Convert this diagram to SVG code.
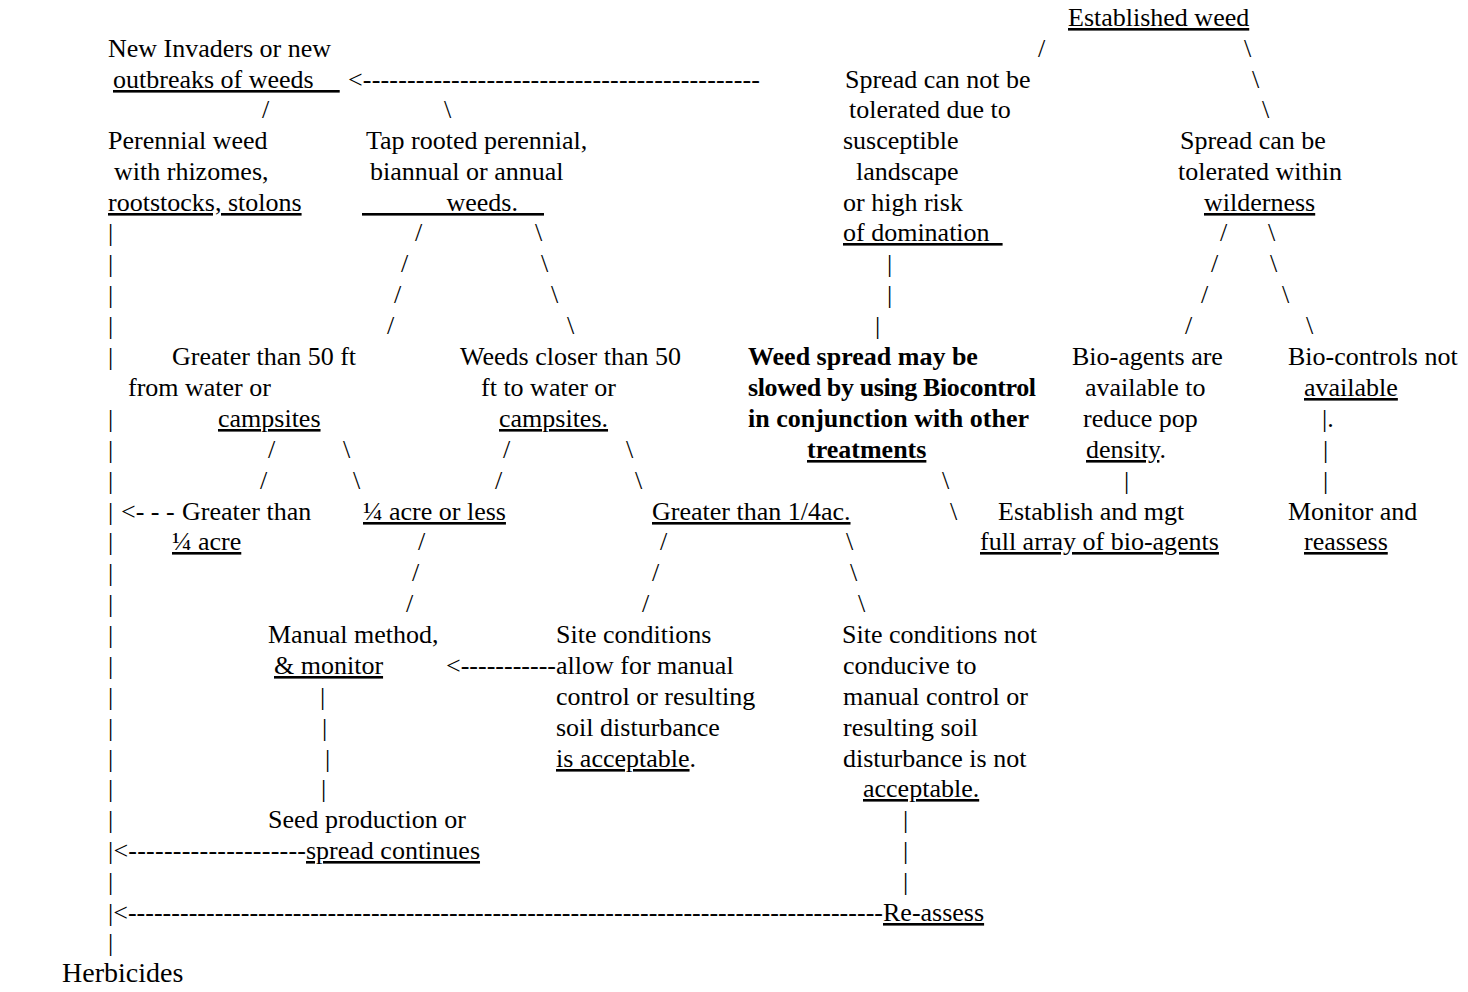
<svg xmlns="http://www.w3.org/2000/svg" width="1468" height="992" viewBox="0 0 1468 992">
<style>
text{font-family:"Liberation Serif","Times New Roman",serif;font-size:26px;fill:#000}
.u{text-decoration:underline;text-decoration-thickness:2px}
.b{font-weight:bold}
.p{white-space:pre}
.h{font-size:28px}
</style>
<rect width="1468" height="992" fill="#fff"/>
<g id="connectors">
<text x="1038" y="57">/</text><text x="1244" y="57">\</text>
<text x="348" y="88" textLength="412">&lt;---------------------------------------------</text>
<text x="1252" y="88">\</text>
<text x="262" y="118">/</text><text x="444" y="118">\</text><text x="1262" y="118">\</text>
<text x="108" y="241">|</text><text x="415" y="241">/</text><text x="535" y="241">\</text><text x="1220" y="241">/</text><text x="1268" y="241">\</text>
<text x="108" y="272">|</text><text x="401" y="272">/</text><text x="541" y="272">\</text><text x="887" y="272">|</text><text x="1211" y="272">/</text><text x="1270" y="272">\</text>
<text x="108" y="303">|</text><text x="394" y="303">/</text><text x="551" y="303">\</text><text x="887" y="303">|</text><text x="1201" y="303">/</text><text x="1282" y="303">\</text>
<text x="108" y="334">|</text><text x="387" y="334">/</text><text x="567" y="334">\</text><text x="875" y="334">|</text><text x="1185" y="334">/</text><text x="1306" y="334">\</text>
<text x="108" y="365">|</text>
<text x="108" y="427">|</text><text x="1322" y="427">|.</text>
<text x="108" y="458">|</text><text x="268" y="458">/</text><text x="343" y="458">\</text><text x="503" y="458">/</text><text x="626" y="458">\</text><text x="1323" y="458">|</text>
<text x="108" y="489">|</text><text x="260" y="489">/</text><text x="353" y="489">\</text><text x="495" y="489">/</text><text x="635" y="489">\</text><text x="942" y="489">\</text><text x="1124" y="489">|</text><text x="1323" y="489">|</text>
<text x="108" y="520">|</text><text x="121" y="520" class="p">&lt;- - - </text><text x="950" y="520">\</text>
<text x="108" y="550">|</text><text x="418" y="550">/</text><text x="660" y="550">/</text><text x="846" y="550">\</text>
<text x="108" y="581">|</text><text x="412" y="581">/</text><text x="652" y="581">/</text><text x="850" y="581">\</text>
<text x="108" y="612">|</text><text x="406" y="612">/</text><text x="642" y="612">/</text><text x="858" y="612">\</text>
<text x="108" y="643">|</text>
<text x="108" y="674">|</text><text x="446" y="674" textLength="110">&lt;-----------</text>
<text x="108" y="705">|</text><text x="320" y="705">|</text>
<text x="108" y="736">|</text><text x="322" y="736">|</text>
<text x="108" y="767">|</text><text x="325" y="767">|</text>
<text x="108" y="797">|</text><text x="321" y="797">|</text>
<text x="108" y="828">|</text><text x="903" y="828">|</text>
<text x="108" y="859" textLength="198">|&lt;--------------------</text><text x="903" y="859">|</text>
<text x="108" y="890">|</text><text x="903" y="890">|</text>
<text x="108" y="921" textLength="775">|&lt;---------------------------------------------------------------------------------------</text>
<text x="108" y="951">|</text>
</g>
<g id="established"><text x="1068" y="26" class="u">Established weed</text></g>
<g id="new-invaders"><text x="108" y="57">New Invaders or new</text><text x="113" y="88" class="u p">outbreaks of weeds    </text></g>
<g id="not-tolerated"><text x="845" y="88">Spread can not be</text><text x="849" y="118">tolerated due to</text><text x="843" y="149">susceptible</text><text x="856" y="180">landscape</text><text x="843" y="211">or high risk</text><text x="843" y="241" class="u p">of domination  </text></g>
<g id="tolerated"><text x="1180" y="149">Spread can be</text><text x="1178" y="180">tolerated within</text><text x="1204" y="211" class="u">wilderness</text></g>
<g id="perennial"><text x="108" y="149">Perennial weed</text><text x="114" y="180">with rhizomes,</text><text x="108" y="211" class="u">rootstocks, stolons</text></g>
<g id="taprooted"><text x="366" y="149">Tap rooted perennial,</text><text x="370" y="180">biannual or annual</text><text x="362" y="211" class="u p">             weeds.    </text></g>
<g id="gt50"><text x="172" y="365">Greater than 50 ft</text><text x="128" y="396">from water or</text><text x="218" y="427" class="u">campsites</text></g>
<g id="lt50"><text x="460" y="365">Weeds closer than 50</text><text x="481" y="396">ft to water or</text><text x="499" y="427" class="u">campsites.</text></g>
<g id="biocontrol"><text x="748" y="365" class="b">Weed spread may be</text><text x="748" y="396" class="b" textLength="288">slowed by using Biocontrol</text><text x="748" y="427" class="b">in conjunction with other</text><text x="807" y="458" class="b u">treatments</text></g>
<g id="bioagents"><text x="1072" y="365">Bio-agents are</text><text x="1085" y="396">available to</text><text x="1083" y="427">reduce pop</text><text x="1086" y="458"><tspan class="u">density</tspan>.</text></g>
<g id="biocontrols-not"><text x="1288" y="365">Bio-controls not</text><text x="1304" y="396" class="u">available</text></g>
<g id="gt-quarter-left"><text x="182" y="520">Greater than</text><text x="172" y="550" class="u">¼ acre</text></g>
<g id="quarter-or-less"><text x="363" y="520" class="u">¼ acre or less</text></g>
<g id="gt-quarter"><text x="652" y="520" class="u">Greater than 1/4ac.</text></g>
<g id="establish"><text x="998" y="520">Establish and mgt</text><text x="980" y="550" class="u">full array of bio-agents</text></g>
<g id="monitor"><text x="1288" y="520">Monitor and</text><text x="1304" y="550" class="u">reassess</text></g>
<g id="manual"><text x="268" y="643">Manual method,</text><text x="274" y="674" class="u">&amp; monitor</text></g>
<g id="site-ok"><text x="556" y="643">Site conditions</text><text x="556" y="674">allow for manual</text><text x="556" y="705">control or resulting</text><text x="556" y="736">soil disturbance</text><text x="556" y="767"><tspan class="u">is acceptable</tspan>.</text></g>
<g id="site-not"><text x="842" y="643">Site conditions not</text><text x="843" y="674">conducive to</text><text x="843" y="705">manual control or</text><text x="843" y="736">resulting soil</text><text x="843" y="767">disturbance is not</text><text x="863" y="797" class="u">acceptable.</text></g>
<g id="seed"><text x="268" y="828">Seed production or</text><text x="306" y="859" class="u">spread continues</text></g>
<g id="reassess"><text x="883" y="921" class="u">Re-assess</text></g>
<g id="herbicides"><text x="62" y="982" class="h">Herbicides</text></g>
</svg>
